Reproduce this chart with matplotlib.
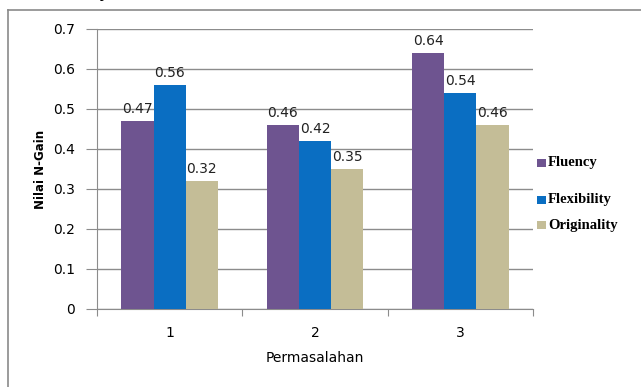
import matplotlib.pyplot as plt
from matplotlib.lines import Line2D
from matplotlib.patches import Rectangle
import numpy as np

categories = ["1", "2", "3"]
fluency = [0.47, 0.46, 0.64]
flexibility = [0.56, 0.42, 0.54]
originality = [0.32, 0.35, 0.46]
series_names = ["Fluency", "Flexibility", "Originality"]
colors = ["#6E5490", "#0A6EC2", "#C4BD97"]

W, H = 641, 387
fig = plt.figure(figsize=(W / 100, H / 100), dpi=100)
fig.patch.set_facecolor("white")

# outer chart frame (left and top edges only visible)
fig.add_artist(Line2D([8 / W, 1], [1 - 10 / H, 1 - 10 / H], color="#8a8a8a", lw=1.2))
fig.add_artist(Line2D([8 / W, 8 / W], [0, 1 - 10 / H], color="#8a8a8a", lw=1.2))
# tail of the caption above the chart
fig.text(104 / W, 1 + 3 / H, "y", fontsize=13, ha="center", va="baseline")

ax = fig.add_axes([97 / W, 78 / H, 436 / W, 280 / H])

x = np.arange(len(categories))
bw = 0.222
for i, (vals, c) in enumerate(zip([fluency, flexibility, originality], colors)):
    pos = x + (i - 1) * bw
    ax.bar(pos, vals, width=bw, color=c, zorder=3)
    for p, v in zip(pos, vals):
        ax.text(p, v + 0.012, f"{v:.2f}", ha="center", va="bottom",
                fontsize=10, color="#222222", zorder=4)

ax.set_xlim(-0.5, 2.5)
ax.set_ylim(0, 0.7)
ax.set_yticks(np.arange(0, 0.71, 0.1))
ax.set_yticklabels(["0", "0.1", "0.2", "0.3", "0.4", "0.5", "0.6", "0.7"])
ax.yaxis.grid(True, color="#8c8c8c", lw=1, zorder=0)

# category ticks between groups, labels at group centres
ax.set_xticks([-0.5, 0.5, 1.5, 2.5])
ax.set_xticklabels([])
ax.set_xticks(x, minor=True)
ax.set_xticklabels(categories, minor=True)
ax.tick_params(axis="x", which="minor", length=0, pad=12, labelsize=10)
ax.tick_params(axis="x", which="major", length=5, direction="out", color="#8c8c8c")
ax.tick_params(axis="y", length=8, direction="out", color="#8c8c8c", pad=8, labelsize=10)

for s in ["top", "right"]:
    ax.spines[s].set_visible(False)
for s in ["left", "bottom"]:
    ax.spines[s].set_color("#8c8c8c")

ax.set_xlabel("Permasalahan", fontsize=10, labelpad=8)
ax.set_ylabel("Nilai N-Gain", fontsize=8.5, fontweight="bold", labelpad=4)

# legend entries placed by hand
legend_y = [163, 200, 225]
for name, c, yy in zip(series_names, colors, legend_y):
    fig.add_artist(Rectangle((537 / W, 1 - (yy + 4) / H), 9 / W, 8 / H,
                             facecolor=c, edgecolor="none", transform=fig.transFigure))
    fig.text(548 / W, 1 - yy / H, name, fontsize=10.5, fontweight="bold",
             family="Liberation Serif", va="center", ha="left")

fig.savefig("out.png", dpi=100)
